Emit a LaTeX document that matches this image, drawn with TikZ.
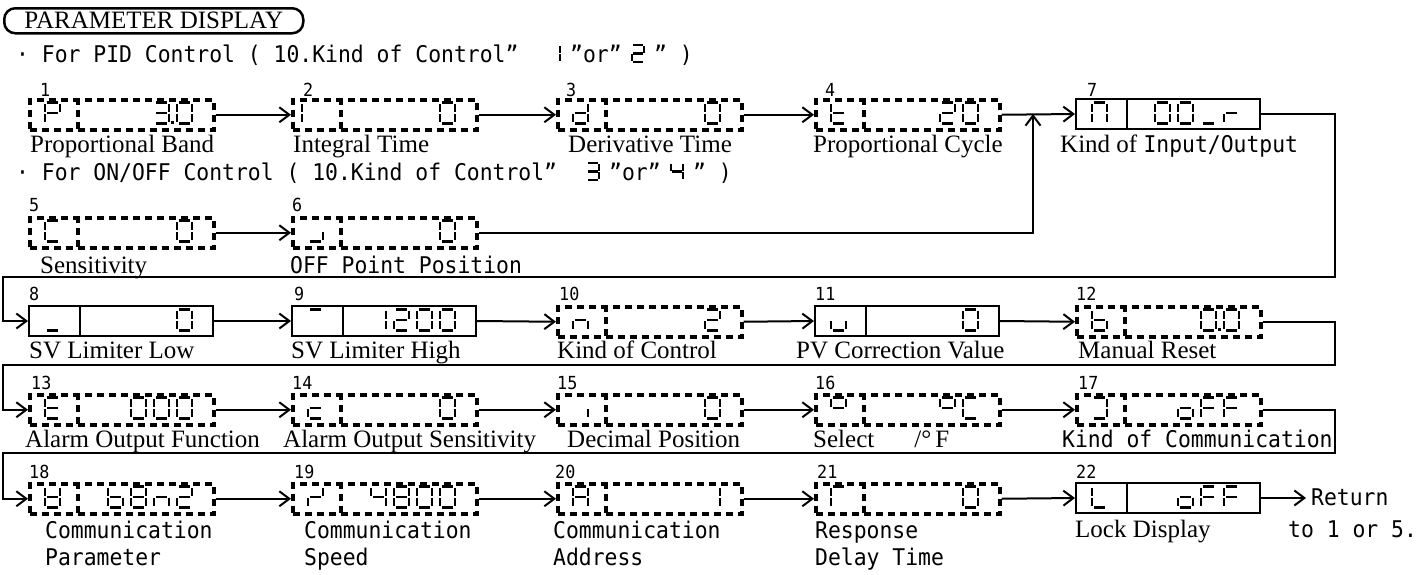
\documentclass[tikz,border=0pt]{standalone}
\usepackage{fontspec}
\setmainfont{Liberation Serif}
\newfontfamily\monof{DejaVu Sans Mono}[FakeStretch=0.93]
\usetikzlibrary{arrows.meta}

% seven-segment pieces (unit cell, y downwards)
\newcommand\SEGa{\draw[segline] (0.12,0) -- (0.88,0);}
\newcommand\SEGb{\draw[segline] (1,0.08) -- (1,0.45);}
\newcommand\SEGc{\draw[segline] (1,0.55) -- (1,0.92);}
\newcommand\SEGd{\draw[segline] (0.12,1) -- (0.88,1);}
\newcommand\SEGe{\draw[segline] (0,0.55) -- (0,0.92);}
\newcommand\SEGf{\draw[segline] (0,0.08) -- (0,0.45);}
\newcommand\SEGg{\draw[segline] (0.12,0.5) -- (0.88,0.5);}
\newcommand\SEGp{\fill (1.15,0.9) rectangle (1.33,1.04);}
\newcommand\sevseg[5]{%
  \begin{scope}[shift={(#1,#2)},xscale=#3,yscale=#4]
  \edef\seglist{#5}%
  \foreach \s in \seglist {\csname SEG\s\endcsname}%
  \end{scope}}
\newcommand\lglyph[3]{\sevseg{#1+17}{#2+4.5}{15}{21}{#3}}
\newcommand\dglyph[4]{\sevseg{#1-35-23*#3}{#2+4.5}{15}{21}{#4}}

\def\sgZero{a,b,c,d,e,f}
\def\sgOne{b,c}
\def\sgTwo{a,b,g,e,d}
\def\sgThree{a,b,c,d,g}
\def\sgFour{b,c,f,g}
\def\sgEight{a,b,c,d,e,f,g}
\def\sgP{a,b,e,f,g}
\def\sgI{e,f}
\def\sgd{b,c,d,e,g}
\def\sgt{d,e,f,g}
\def\sgC{a,d,e,f}
\def\sgJ{c,d}
\def\sgN{a,b,c,e,f}
\def\sgUnd{d}
\def\sgr{e,g}
\def\sgTop{a}
\def\sgn{c,e,g}
\def\sgu{c,d,e}
\def\sgb{c,d,e,f,g}
\def\sgE{a,d,e,f,g}
\def\sgc{d,e,g}
\def\sgComma{c}
\def\sgDeg{a,b,f,g}
\def\sgRev{a,b,c,d}
\def\sgo{c,d,e,g}
\def\sgF{a,e,f,g}
\def\sgUg{b,c,d,e,f,g}
\def\sgZ{b,g,e}
\def\sgA{a,b,c,e,f,g}
\def\sgG{a,e,f}
\def\sgL{d,e,f}

\begin{document}
\begin{tikzpicture}[x=1pt,y=-1pt,
  segline/.style={line width=2.2pt},
  sbox/.style={draw,line width=2pt,minimum width=184pt,minimum height=30pt,inner sep=0pt,anchor=north west},
  dbox/.style={draw,line width=3.5pt,dash pattern=on 7pt off 5pt,minimum width=184pt,minimum height=30pt,inner sep=0pt,anchor=north west},
  dsep/.style={line width=3.5pt,dash pattern=on 7pt off 5pt},
  wire/.style={line width=2pt},
  flow/.style={line width=2pt,-{Straight Barb[length=10pt,width=15pt,line width=2pt]}},
  capt/.style={font=\fontsize{25}{29}\selectfont,inner sep=0pt,anchor=base west},
  mcapt/.style={font=\monof\fontsize{23}{27}\selectfont,inner sep=0pt,anchor=base west},
  numlab/.style={font=\monof\fontsize{18}{20}\selectfont,inner sep=0pt,anchor=base west},
]
\fill[white] (0,0) rectangle (1422,574);
\useasboundingbox (0,0) rectangle (1422,574);

% title
\node[draw,line width=2.5pt,rounded corners=11pt,minimum width=299pt,minimum height=25pt,inner sep=0pt,anchor=north west,font=\fontsize{25}{29}\selectfont] (title) at (3,7) {PARAMETER DISPLAY};

% condition lines
\node[mcapt] (pid) at (16,62) {· For PID Control ( 10.Kind of Control”};
\sevseg{548}{45}{12}{17}{\sgOne}
\node[mcapt] (pidor) at (570,62) {”or”};
\sevseg{632}{45}{12}{17}{\sgTwo}
\node[mcapt] (pidend) at (654,62) {” )};

\node[mcapt] (onoff) at (16,180) {· For ON/OFF Control ( 10.Kind of Control”};
\sevseg{587}{163}{12}{17}{\sgThree}
\node[mcapt] (onoffor) at (609,180) {”or”};
\sevseg{671}{163}{12}{17}{\sgFour}
\node[mcapt] (onoffend) at (693,180) {” )};

% boxes
\node[dbox] (b1) at (28,98) {};
\node[dbox] (b2) at (291,98) {};
\node[dbox] (b3) at (556,98) {};
\node[dbox] (b4) at (814,98) {};
\node[sbox] (b7) at (1075,98) {};
\node[dbox] (b5) at (28,216) {};
\node[dbox] (b6) at (291,216) {};
\node[sbox] (b8) at (28,305) {};
\node[sbox] (b9) at (291,305) {};
\node[dbox] (b10) at (556,305) {};
\node[sbox] (b11) at (814,305) {};
\node[dbox] (b12) at (1075,305) {};
\node[dbox] (b13) at (28,393) {};
\node[dbox] (b14) at (291,393) {};
\node[dbox] (b15) at (556,393) {};
\node[dbox] (b16) at (814,393) {};
\node[dbox] (b17) at (1075,393) {};
\node[dbox] (b18) at (28,482) {};
\node[dbox] (b19) at (291,482) {};
\node[dbox] (b20) at (556,482) {};
\node[dbox] (b21) at (814,482) {};
\node[sbox] (b22) at (1075,482) {};

\foreach \n in {b1,b2,b3,b4,b5,b6,b10,b12,b13,b14,b15,b16,b17,b18,b19,b20,b21}
  \draw[dsep] ([xshift=50pt]\n.north west) -- ([xshift=50pt]\n.south west);
\foreach \n in {b7,b8,b9,b11,b22}
  \draw[wire] ([xshift=52pt]\n.north west) -- ([xshift=52pt]\n.south west);

% glyphs row 1
\lglyph{28}{98}{\sgP}\dglyph{212}{98}{1}{\sgThree,p}\dglyph{212}{98}{0}{\sgZero}
\sevseg{302}{102.5}{15}{21}{\sgI}\dglyph{475}{98}{0}{\sgZero}
\lglyph{556}{98}{\sgd}\dglyph{740}{98}{0}{\sgZero}
\lglyph{814}{98}{\sgt}\dglyph{998}{98}{1}{\sgTwo}\dglyph{998}{98}{0}{\sgZero}
\lglyph{1075}{98}{\sgN}\dglyph{1259}{98}{3}{\sgZero}\dglyph{1259}{98}{2}{\sgZero}\dglyph{1259}{98}{1}{\sgUnd}\dglyph{1259}{98}{0}{\sgr}
% row 5/6
\lglyph{28}{216}{\sgC}\dglyph{212}{216}{0}{\sgZero}
\lglyph{291}{216}{\sgJ}\dglyph{475}{216}{0}{\sgZero}
% row 2
\lglyph{28}{305}{\sgUnd}\dglyph{212}{305}{0}{\sgZero}
\lglyph{291}{305}{\sgTop}\dglyph{475}{305}{3}{\sgOne}\dglyph{475}{305}{2}{\sgTwo}\dglyph{475}{305}{1}{\sgZero}\dglyph{475}{305}{0}{\sgZero}
\lglyph{556}{305}{\sgn}\dglyph{740}{305}{0}{\sgTwo}
\lglyph{814}{305}{\sgu}\dglyph{998}{305}{0}{\sgZero}
\lglyph{1075}{305}{\sgb}\dglyph{1259}{305}{1}{\sgZero,p}\dglyph{1259}{305}{0}{\sgZero}
% row 3
\lglyph{28}{393}{\sgE}\dglyph{212}{393}{2}{\sgZero}\dglyph{212}{393}{1}{\sgZero}\dglyph{212}{393}{0}{\sgZero}
\lglyph{291}{393}{\sgc}\dglyph{475}{393}{0}{\sgZero}
\lglyph{556}{393}{\sgComma}\dglyph{740}{393}{0}{\sgZero}
\lglyph{814}{393}{\sgDeg}\dglyph{998}{393}{1}{\sgDeg}\dglyph{998}{393}{0}{\sgC}
\lglyph{1075}{393}{\sgRev}\dglyph{1259}{393}{2}{\sgo}\dglyph{1259}{393}{1}{\sgF}\dglyph{1259}{393}{0}{\sgF}
% row 4
\lglyph{28}{482}{\sgUg}\dglyph{212}{482}{3}{\sgb}\dglyph{212}{482}{2}{\sgEight}\dglyph{212}{482}{1}{\sgn}\dglyph{212}{482}{0}{\sgTwo}
\lglyph{291}{482}{\sgZ}\dglyph{475}{482}{3}{\sgFour}\dglyph{475}{482}{2}{\sgEight}\dglyph{475}{482}{1}{\sgZero}\dglyph{475}{482}{0}{\sgZero}
\lglyph{556}{482}{\sgA}\dglyph{740}{482}{0}{\sgOne}
\lglyph{814}{482}{\sgG}\dglyph{998}{482}{0}{\sgZero}
\lglyph{1075}{482}{\sgL}\dglyph{1259}{482}{2}{\sgo}\dglyph{1259}{482}{1}{\sgF}\dglyph{1259}{482}{0}{\sgF}

% numbers
\node[numlab] (n1) at (40,96) {1};
\node[numlab] (n2) at (303,96) {2};
\node[numlab] (n3) at (566,96) {3};
\node[numlab] (n4) at (825,96) {4};
\node[numlab] (n7) at (1087,96) {7};
\node[numlab] (n5) at (29,211) {5};
\node[numlab] (n6) at (292,211) {6};
\node[numlab] (n8) at (29,300) {8};
\node[numlab] (n9) at (294,300) {9};
\node[numlab] (n10) at (559,300) {10};
\node[numlab] (n11) at (815,300) {11};
\node[numlab] (n12) at (1076,300) {12};
\node[numlab] (n13) at (31,389) {13};
\node[numlab] (n14) at (292,389) {14};
\node[numlab] (n15) at (557,389) {15};
\node[numlab] (n16) at (815,389) {16};
\node[numlab] (n17) at (1078,389) {17};
\node[numlab] (n18) at (29,478) {18};
\node[numlab] (n19) at (294,478) {19};
\node[numlab] (n20) at (555,478) {20};
\node[numlab] (n21) at (817,478) {21};
\node[numlab] (n22) at (1076,478) {22};

% captions
\node[capt] (c1) at (30,152) {Proportional Band};
\node[capt] (c2) at (293,152) {Integral Time};
\node[capt] (c3) at (568,152) {Derivative Time};
\node[capt] (c4) at (813,152) {Proportional Cycle};
\node[capt] (c7) at (1060,152) {Kind of {\monof\fontsize{23}{27}\selectfont Input/Output}};
\node[capt] (c5) at (40,273) {Sensitivity};
\node[mcapt] (c6) at (290,273) {OFF Point Position};
\node[capt] (c8) at (29,358) {SV Limiter Low};
\node[capt] (c9) at (291,358) {SV Limiter High};
\node[capt] (c10) at (557,358) {Kind of Control};
\node[capt] (c11) at (796,358) {PV Correction Value};
\node[capt] (c12) at (1078,358) {Manual Reset};
\node[capt] (c13) at (25,447) {Alarm Output Function};
\node[capt] (c14) at (283,447) {Alarm Output Sensitivity};
\node[capt] (c15) at (567,447) {Decimal Position};
\node[capt] (c16) at (813,447) {Select\hspace{40pt}/°\hspace{4pt}F};
\node[mcapt] (c17) at (1062,447) {Kind of Communication};
\node[mcapt] (c18a) at (45,538) {Communication};
\node[mcapt] (c18b) at (45,565) {Parameter};
\node[mcapt] (c19a) at (304,538) {Communication};
\node[mcapt] (c19b) at (304,565) {Speed};
\node[mcapt] (c20a) at (553,538) {Communication};
\node[mcapt] (c20b) at (553,565) {Address};
\node[mcapt] (c21a) at (815,538) {Response};
\node[mcapt] (c21b) at (815,565) {Delay Time};
\node[capt] (c22) at (1075,537) {Lock Display};
\node[mcapt] (ret) at (1311,505) {Return};
\node[mcapt] (ret2) at (1288,537) {to 1 or 5.};

% connectors
\draw[flow] (b1.east) -- (b2.west);
\draw[flow] (b2.east) -- (b3.west);
\draw[flow] (b3.east) -- (b4.west);
\draw[flow] (b4.east) -- (b7.west);
\draw[flow] (b5.east) -- (b6.west);
\coordinate (jn) at (1033,114);
\draw[flow] (b6.east) -| (jn);
\coordinate (r1) at (1335,277); \coordinate (l1) at (3,277);
\draw[flow] (b7.east) -| (r1) -- (l1) |- (b8.west);
\draw[flow] (b8.east) -- (b9.west);
\draw[flow] (b9.east) -- (b10.west);
\draw[flow] (b10.east) -- (b11.west);
\draw[flow] (b11.east) -- (b12.west);
\coordinate (r2) at (1335,365); \coordinate (l2) at (3,365);
\draw[flow] (b12.east) -| (r2) -- (l2) |- (b13.west);
\draw[flow] (b13.east) -- (b14.west);
\draw[flow] (b14.east) -- (b15.west);
\draw[flow] (b15.east) -- (b16.west);
\draw[flow] (b16.east) -- (b17.west);
\coordinate (r3) at (1335,453); \coordinate (l3) at (3,453);
\draw[flow] (b17.east) -| (r3) -- (l3) |- (b18.west);
\draw[flow] (b18.east) -- (b19.west);
\draw[flow] (b19.east) -- (b20.west);
\draw[flow] (b20.east) -- (b21.west);
\draw[flow] (b21.east) -- (b22.west);
\draw[flow,shorten >=5pt] (b22.east) -- (b22.east -| ret.west);
\end{tikzpicture}
\end{document}
